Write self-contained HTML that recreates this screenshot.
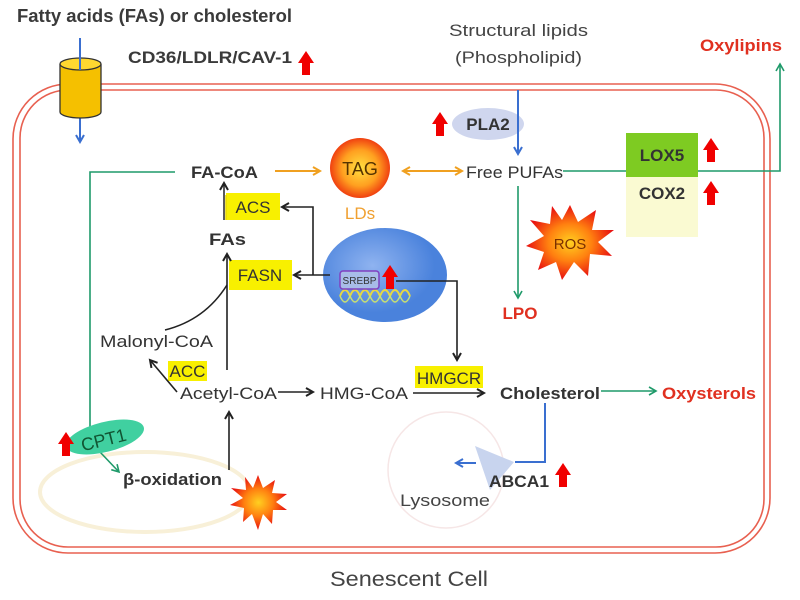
<!DOCTYPE html>
<html><head><meta charset="utf-8"><style>
html,body{margin:0;padding:0;background:#fff}
svg{display:block}
text{font-family:"Liberation Sans",sans-serif}
</style></head><body>
<svg width="800" height="600" viewBox="0 0 800 600" xmlns="http://www.w3.org/2000/svg">
<defs>
<marker id="ab" markerWidth="10" markerHeight="10" refX="8" refY="5" orient="auto" markerUnits="userSpaceOnUse"><path d="M1,1 L8,5 L1,9" fill="none" stroke="#3a6fd0" stroke-width="2"/></marker>
<marker id="ak" markerWidth="10" markerHeight="10" refX="8" refY="5" orient="auto" markerUnits="userSpaceOnUse"><path d="M1,1 L8,5 L1,9" fill="none" stroke="#222" stroke-width="2"/></marker>
<marker id="ag" markerWidth="10" markerHeight="10" refX="8" refY="5" orient="auto" markerUnits="userSpaceOnUse"><path d="M1,1 L8,5 L1,9" fill="none" stroke="#1f9a6a" stroke-width="1.6"/></marker>
<marker id="ao" markerWidth="10" markerHeight="10" refX="8" refY="5" orient="auto" markerUnits="userSpaceOnUse"><path d="M1,1 L8,5 L1,9" fill="none" stroke="#f0a020" stroke-width="2"/></marker>
<marker id="aos" markerWidth="10" markerHeight="10" refX="2" refY="5" orient="auto" markerUnits="userSpaceOnUse"><path d="M9,1 L2,5 L9,9" fill="none" stroke="#f0a020" stroke-width="2"/></marker>
<radialGradient id="tag"><stop offset="0" stop-color="#ffe040"/><stop offset="0.6" stop-color="#ffa020"/><stop offset="1" stop-color="#f04010"/></radialGradient>
<radialGradient id="ros"><stop offset="0" stop-color="#ffd020"/><stop offset="0.5" stop-color="#ff8010"/><stop offset="1" stop-color="#e81010"/></radialGradient>
<radialGradient id="nuc" cx="0.4" cy="0.4"><stop offset="0" stop-color="#8fb3f0"/><stop offset="1" stop-color="#4a82dc"/></radialGradient>
<g id="up"><path d="M-4,12 L-4,0 L-8,0 L0,-12 L8,0 L4,0 L4,12 Z" fill="#f00000"/></g>
</defs>

<rect x="13" y="84" width="757" height="469" rx="55" fill="none" stroke="#e86050" stroke-width="1.6"/>
<rect x="20" y="90" width="744" height="457" rx="48" fill="none" stroke="#e86050" stroke-width="1.6"/>

<ellipse cx="145" cy="492" rx="105" ry="40" fill="none" stroke="#f8f0d8" stroke-width="4"/>
<circle cx="446" cy="470" r="58" fill="none" stroke="#f6e6e6" stroke-width="1.5"/>

<text x="17" y="22" font-size="18" font-weight="bold" fill="#3a3a3a" textLength="275" lengthAdjust="spacingAndGlyphs">Fatty acids (FAs) or cholesterol</text>
<text x="128" y="63" font-size="17" font-weight="bold" fill="#3a3a3a" textLength="164" lengthAdjust="spacingAndGlyphs">CD36/LDLR/CAV-1</text>
<use href="#up" x="306" y="63"/>
<text x="449" y="36" font-size="17" fill="#444" textLength="139" lengthAdjust="spacingAndGlyphs">Structural lipids</text>
<text x="455" y="63" font-size="17" fill="#444" textLength="127" lengthAdjust="spacingAndGlyphs">(Phospholipid)</text>
<text x="700" y="51" font-size="17" font-weight="bold" fill="#e03020" textLength="82" lengthAdjust="spacingAndGlyphs">Oxylipins</text>

<line x1="80" y1="38" x2="80" y2="142" stroke="#3a6fd0" stroke-width="2" marker-end="url(#ab)"/>
<path d="M60,64 L60,112 A20.5,6 0 0 0 101,112 L101,64" fill="#f5c000" stroke="#333" stroke-width="1.3"/>
<ellipse cx="80.5" cy="64" rx="20.5" ry="6" fill="#ffd830" stroke="#333" stroke-width="1.3"/>
<line x1="80" y1="38" x2="80" y2="70" stroke="#3a6fd0" stroke-width="2"/>

<ellipse cx="488" cy="124" rx="36" ry="16" fill="#cfd6ee"/>
<text x="488" y="130" font-size="17" font-weight="bold" fill="#333" text-anchor="middle">PLA2</text>
<use href="#up" x="440" y="124"/>
<line x1="518" y1="90" x2="518" y2="154" stroke="#3a6fd0" stroke-width="2" marker-end="url(#ab)"/>

<circle cx="360" cy="168" r="30" fill="url(#tag)"/>
<text x="360" y="175" font-size="18" fill="#553300" text-anchor="middle">TAG</text>
<text x="360" y="219" font-size="17" fill="#f0a030" text-anchor="middle">LDs</text>
<line x1="275" y1="171" x2="320" y2="171" stroke="#f0a020" stroke-width="2" marker-end="url(#ao)"/>
<line x1="403" y1="171" x2="462" y2="171" stroke="#f0a020" stroke-width="2" marker-end="url(#ao)" marker-start="url(#aos)"/>

<text x="191" y="178" font-size="17" font-weight="bold" fill="#333" textLength="67" lengthAdjust="spacingAndGlyphs">FA-CoA</text>
<text x="466" y="178" font-size="17" fill="#333" textLength="97" lengthAdjust="spacingAndGlyphs">Free PUFAs</text>

<polyline points="175,172 90,172 90,430" fill="none" stroke="#1f9a6a" stroke-width="1.6"/>
<line x1="563" y1="171" x2="626" y2="171" stroke="#1f9a6a" stroke-width="1.6"/>
<polyline points="698,171 780,171 780,64" fill="none" stroke="#1f9a6a" stroke-width="1.6" marker-end="url(#ag)"/>
<line x1="518" y1="186" x2="518" y2="298" stroke="#1f9a6a" stroke-width="1.6" marker-end="url(#ag)"/>

<rect x="626" y="177" width="72" height="60" fill="#fafad2"/>
<rect x="626" y="133" width="72" height="44" fill="#7ecb22"/>
<text x="662" y="161" font-size="17" font-weight="bold" fill="#333" text-anchor="middle">LOX5</text>
<text x="662" y="199" font-size="17" font-weight="bold" fill="#333" text-anchor="middle">COX2</text>
<use href="#up" x="711" y="150"/>
<use href="#up" x="711" y="193"/>

<polygon points="570,205 578,222 596,210 592,230 614,230 598,242 612,256 590,254 588,276 574,262 562,280 556,262 538,270 544,252 526,246 544,236 530,220 550,224 552,206 562,220" fill="url(#ros)"/>
<text x="570" y="249" font-size="15" fill="#7a3000" text-anchor="middle">ROS</text>
<text x="520" y="319" font-size="17" font-weight="bold" fill="#e03020" text-anchor="middle">LPO</text>

<ellipse cx="385" cy="275" rx="62" ry="47" fill="url(#nuc)"/>
<path d="M340,296 q5,-12 10,0 q5,-12 10,0 q5,-12 10,0 q5,-12 10,0 q5,-12 10,0 q5,-12 10,0 q5,-12 10,0" fill="none" stroke="#e8d840" stroke-width="2"/>
<path d="M340,296 q5,12 10,0 q5,12 10,0 q5,12 10,0 q5,12 10,0 q5,12 10,0 q5,12 10,0 q5,12 10,0" fill="none" stroke="#c8e070" stroke-width="1.5"/>
<rect x="340" y="271" width="39" height="18" rx="3" fill="#a8bce8" stroke="#8040c0" stroke-width="1.5"/>
<text x="359.5" y="284" font-size="10" fill="#333" text-anchor="middle">SREBP</text>
<use href="#up" x="390" y="277"/>
<polyline points="396,281 457,281 457,360" fill="none" stroke="#222" stroke-width="1.6" marker-end="url(#ak)"/>
<line x1="330" y1="275" x2="294" y2="275" stroke="#222" stroke-width="1.6" marker-end="url(#ak)"/>
<polyline points="313,275 313,207 282,207" fill="none" stroke="#222" stroke-width="1.6" marker-end="url(#ak)"/>

<rect x="226" y="193" width="54" height="27" fill="#f8f000"/>
<text x="253" y="213" font-size="17" fill="#333" text-anchor="middle">ACS</text>
<rect x="229" y="260" width="63" height="30" fill="#f8f000"/>
<text x="260" y="281" font-size="17" fill="#333" text-anchor="middle">FASN</text>
<text x="209" y="245" font-size="17" font-weight="bold" fill="#333" textLength="37" lengthAdjust="spacingAndGlyphs">FAs</text>
<line x1="224" y1="220" x2="224" y2="183" stroke="#222" stroke-width="1.5" marker-end="url(#ak)"/>
<line x1="226" y1="220" x2="226" y2="195" stroke="#e8d800" stroke-width="1.5"/>
<line x1="227" y1="370" x2="227" y2="254" stroke="#222" stroke-width="1.6" marker-end="url(#ak)"/>
<path d="M165,330 Q205,320 227,285" fill="none" stroke="#222" stroke-width="1.6"/>

<text x="100" y="347" font-size="17" fill="#333" textLength="113" lengthAdjust="spacingAndGlyphs">Malonyl-CoA</text>
<rect x="168" y="361" width="39" height="20" fill="#f8f000"/>
<text x="187.5" y="377" font-size="17" fill="#333" text-anchor="middle">ACC</text>
<line x1="177" y1="392" x2="150" y2="360" stroke="#222" stroke-width="1.6" marker-end="url(#ak)"/>
<text x="180" y="399" font-size="17" fill="#333" textLength="97" lengthAdjust="spacingAndGlyphs">Acetyl-CoA</text>
<line x1="278" y1="392" x2="313" y2="392" stroke="#222" stroke-width="1.6" marker-end="url(#ak)"/>
<text x="320" y="399" font-size="17" fill="#333" textLength="88" lengthAdjust="spacingAndGlyphs">HMG-CoA</text>
<rect x="415" y="366" width="68" height="22" fill="#f8f000"/>
<text x="449" y="384" font-size="17" fill="#333" text-anchor="middle">HMGCR</text>
<line x1="413" y1="393" x2="484" y2="393" stroke="#222" stroke-width="1.6" marker-end="url(#ak)"/>
<text x="500" y="399" font-size="17" font-weight="bold" fill="#333" textLength="100" lengthAdjust="spacingAndGlyphs">Cholesterol</text>
<line x1="601" y1="391" x2="656" y2="391" stroke="#1f9a6a" stroke-width="1.6" marker-end="url(#ag)"/>
<text x="662" y="399" font-size="17" font-weight="bold" fill="#e03020" textLength="94" lengthAdjust="spacingAndGlyphs">Oxysterols</text>

<polyline points="545,403 545,462 515,462" fill="none" stroke="#3a6fd0" stroke-width="2"/>
<polygon points="475,446 514,462 490,490" fill="#c8d4ee"/>
<line x1="476" y1="463" x2="456" y2="463" stroke="#3a6fd0" stroke-width="2" marker-end="url(#ab)"/>
<text x="489" y="487" font-size="17" font-weight="bold" fill="#333" textLength="60" lengthAdjust="spacingAndGlyphs">ABCA1</text>
<use href="#up" x="563" y="475"/>
<text x="400" y="506" font-size="17" fill="#444" textLength="90" lengthAdjust="spacingAndGlyphs">Lysosome</text>

<line x1="100" y1="452" x2="119" y2="472" stroke="#1f9a6a" stroke-width="1.6" marker-end="url(#ag)"/>
<ellipse cx="105" cy="437" rx="40" ry="15" transform="rotate(-14 105 437)" fill="#40d0a0"/>
<text x="104" y="446" font-size="18" fill="#153" text-anchor="middle" transform="rotate(-14 104 441)">CPT1</text>
<use href="#up" x="66" y="444"/>
<text x="123" y="485" font-size="17" font-weight="bold" fill="#333" textLength="99" lengthAdjust="spacingAndGlyphs">β-oxidation</text>
<line x1="229" y1="470" x2="229" y2="412" stroke="#222" stroke-width="1.6" marker-end="url(#ak)"/>
<polygon points="258,475 263,488 275,480 272,493 287,494 276,502 287,510 273,510 272,524 263,514 258,530 252,514 243,522 244,508 230,505 243,498 231,488 246,490 245,477 253,488" fill="url(#ros)"/>

<text x="330" y="586" font-size="21" fill="#444" textLength="158" lengthAdjust="spacingAndGlyphs">Senescent Cell</text>
</svg>
</body></html>
